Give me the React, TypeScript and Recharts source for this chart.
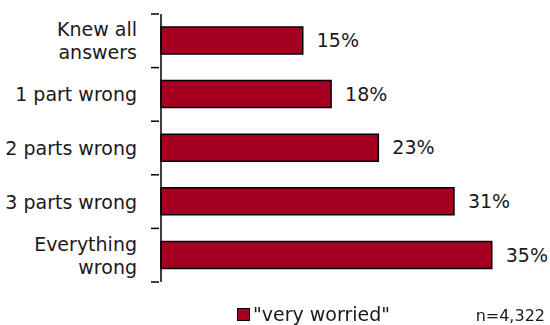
import React from 'react';
import { BarChart, Bar, XAxis, YAxis, LabelList } from 'recharts';

const categories = ['Knew all\nanswers', '1 part wrong', '2 parts wrong', '3 parts wrong', 'Everything\nwrong'];
const veryWorried = [15, 18, 23, 31, 35];
const seriesName = '"very worried"';
const sampleNote = 'n=4,322';

const data = categories.map((c, i) => ({ category: c, value: veryWorried[i] }));

const FONT = '"DejaVu Sans", Verdana, sans-serif';
const BAR_COLOR = '#a50021';
const TEXT = '#1a1a1a';

const CategoryTick = (props: any) => {
  const { x, y, payload, index, visibleTicksCount } = props;
  const lines = String(payload.value).split('\n');
  const half = payload.offset || 0;
  const lineH = 23;
  const startY = y - ((lines.length - 1) * lineH) / 2;
  const axisX = x + 8;
  return (
    <g>
      <line x1={axisX - 8} x2={axisX} y1={y - half} y2={y - half} stroke="#000" strokeWidth={1.5} />
      {index === visibleTicksCount - 1 && (
        <line x1={axisX - 8} x2={axisX} y1={y + half} y2={y + half} stroke="#000" strokeWidth={1.5} />
      )}
      <text x={x - 14} y={startY} textAnchor="end" dominantBaseline="central" fill={TEXT} fontSize={19} fontFamily={FONT}>
        {lines.map((l, i) => (
          <tspan key={i} x={x - 14} dy={i === 0 ? 0 : lineH}>
            {l}
          </tspan>
        ))}
      </text>
    </g>
  );
};

export default function App() {
  return (
    <div style={{ position: 'fixed', left: 0, top: 0, width: 550, height: 325, background: '#fff', fontFamily: FONT, color: TEXT }}>
      <BarChart
        width={550}
        height={325}
        data={data}
        layout="vertical"
        margin={{ top: 14, right: 11, bottom: 43, left: 0 }}
        barSize={27}
      >
        <XAxis type="number" domain={[0, 40]} hide />
        <YAxis
          type="category"
          dataKey="category"
          width={161}
          tickLine={false}
          tickSize={8}
          axisLine={{ stroke: '#000', strokeWidth: 1.5 }}
          tick={<CategoryTick />}
          interval={0}
        />
        <Bar dataKey="value" name={seriesName} fill={BAR_COLOR} stroke="#000" strokeWidth={1.5} isAnimationActive={false}>
          <LabelList
            dataKey="value"
            position="right"
            offset={14}
            formatter={(v: any) => `${v}%`}
            fill={TEXT}
            fontSize={19}
            fontFamily={FONT}
          />
        </Bar>
      </BarChart>
      <span
        style={{
          position: 'absolute',
          left: 237,
          top: 308,
          width: 11,
          height: 11,
          background: BAR_COLOR,
          border: '1.5px solid #000',
        }}
      />
      <span style={{ position: 'absolute', left: 253, top: 302, fontSize: 19, lineHeight: '25px' }}>{seriesName}</span>
      <span style={{ position: 'absolute', right: 5, top: 303, fontSize: 16, lineHeight: '25px' }}>{sampleNote}</span>
    </div>
  );
}
